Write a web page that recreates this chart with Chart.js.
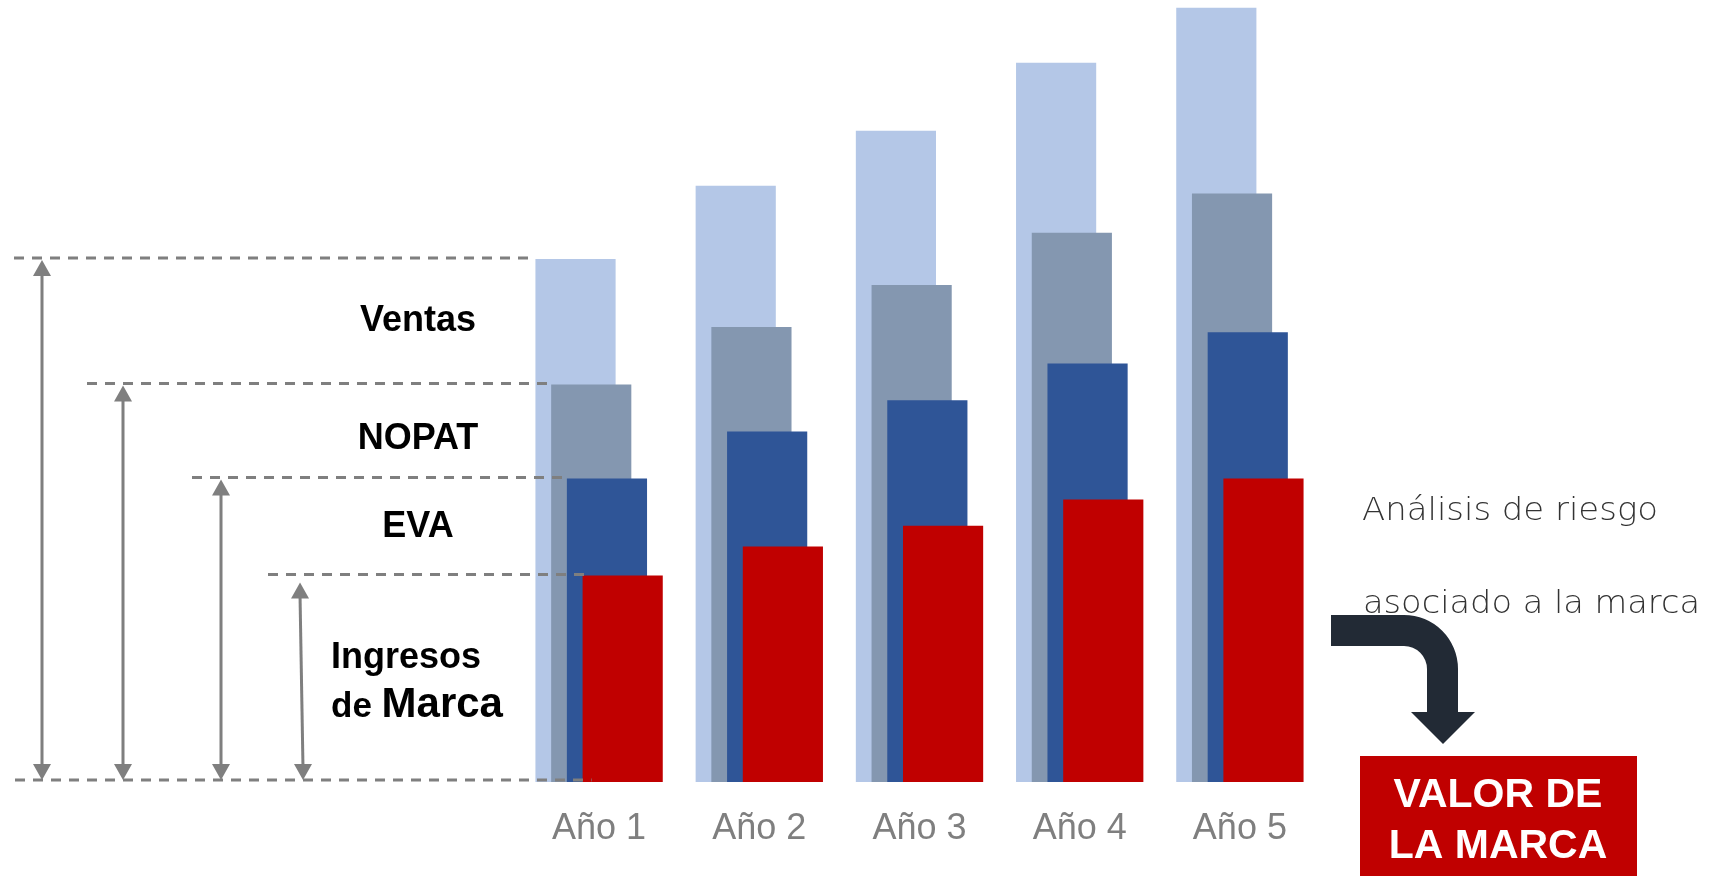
<!DOCTYPE html>
<html lang="es">
<head>
<meta charset="utf-8">
<title>Valor de la marca</title>
<script src="https://cdn.jsdelivr.net/npm/chart.js@4.4.0/dist/chart.umd.min.js"></script>
<style>
  html, body { margin: 0; padding: 0; background: #fff; }
  #wrap { width: 1711px; height: 876px; position: relative; }
</style>
</head>
<body>
<div id="wrap"><canvas id="grafico"></canvas></div>
<script>
// Datos (unidades relativas, Ventas del año 1 = 100)
const anios = ['Año 1', 'Año 2', 'Año 3', 'Año 4', 'Año 5'];
const ventas = [100, 114, 124.5, 137.5, 148];
const nopat = [76, 87, 95, 105, 112.5];
const eva = [58, 67, 73, 80, 86];
const ingresosMarca = [39.5, 45, 49, 54, 58];

const series = ['Ventas', 'NOPAT', 'EVA', 'Ingresos de Marca'];
const colores = ['#B4C7E7', '#8497B0', '#2F5597', '#C00000'];
const gris = '#7F7F7F';

// Chart.js dibuja la primera serie encima; aquí queremos la de la derecha encima
const ordenIzqDer = {
    id: 'ordenIzqDer',
    beforeDatasetsDraw(chart) {
        chart.getSortedVisibleDatasetMetas().forEach(m => m.controller.draw());
        return false;
    }
};

function linea(ctx, x1, y1, x2, y2) {
    ctx.beginPath();
    ctx.moveTo(x1, y1);
    ctx.lineTo(x2, y2);
    ctx.stroke();
}

function punta(ctx, x, y, dir) {
    // dir = 1 apunta hacia arriba, -1 hacia abajo
    ctx.beginPath();
    ctx.moveTo(x, y);
    ctx.lineTo(x - 9, y + dir * 16);
    ctx.lineTo(x + 9, y + dir * 16);
    ctx.closePath();
    ctx.fill();
}

// Cotas, textos y flecha alrededor de las barras
const anotaciones = {
    id: 'anotaciones',
    afterDraw(chart) {
        const ctx = chart.ctx;
        const y = chart.scales.y;
        const metas = chart.getSortedVisibleDatasetMetas();
        const base = y.getPixelForValue(0) - 2;
        const niveles = [ventas[0], nopat[0], eva[0], ingresosMarca[0]];
        const inicioX = [14, 87, 192, 268];
        const flechaX = [42, 123, 221, 300];

        ctx.save();
        ctx.strokeStyle = gris;
        ctx.fillStyle = gris;
        ctx.lineWidth = 3;

        // líneas discontinuas
        ctx.setLineDash([10, 8]);
        niveles.forEach((v, i) => {
            const yy = y.getPixelForValue(v) - 1;
            const b = metas[i].data[0];
            linea(ctx, inicioX[i], yy, b.x - b.width / 2 + (i ? 2 : 0), yy);
        });
        const ult = metas[3].data[0];
        linea(ctx, 15, base, ult.x - ult.width / 2 + 9, base);
        ctx.setLineDash([]);

        // flechas dobles
        niveles.forEach((v, i) => {
            const top = y.getPixelForValue(v) + (i === 3 ? 7 : 1);
            const xb = i === 3 ? flechaX[i] + 3 : flechaX[i];
            linea(ctx, flechaX[i], top + 12, xb, base - 12);
            punta(ctx, flechaX[i], top, 1);
            punta(ctx, xb, base, -1);
        });

        // textos de la izquierda
        ctx.fillStyle = '#000';
        ctx.textAlign = 'center';
        ctx.textBaseline = 'alphabetic';
        ctx.font = 'bold 36px "Liberation Sans", Arial, sans-serif';
        ctx.fillText('Ventas', 418, 331);
        ctx.fillText('NOPAT', 418, 449);
        ctx.fillText('EVA', 418, 537);
        ctx.textAlign = 'left';
        ctx.fillText('Ingresos', 331, 668);
        ctx.font = 'bold 35px "Liberation Sans", Arial, sans-serif';
        ctx.fillText('de ', 331, 717);
        const anchoDe = ctx.measureText('de ').width;
        ctx.font = 'bold 42px "Liberation Sans", Arial, sans-serif';
        ctx.fillText('Marca', 331 + anchoDe, 717);

        // textos de la derecha
        ctx.fillStyle = '#333333';
        ctx.font = '200 32px "DejaVu Sans", sans-serif';
        [['Análisis de riesgo', 1362, 520, 296], ['asociado a la marca', 1363, 613, 337]].forEach(t => {
            const w = ctx.measureText(t[0]).width;
            ctx.save();
            ctx.translate(t[1], t[2]);
            ctx.scale(t[3] / w, 1);
            ctx.fillText(t[0], 0, 0);
            ctx.restore();
        });

        // flecha curva
        ctx.fillStyle = '#222A35';
        ctx.beginPath();
        ctx.moveTo(1331, 615);
        ctx.lineTo(1404, 615);
        ctx.arc(1404, 669, 54, -Math.PI / 2, 0);
        ctx.lineTo(1458, 712);
        ctx.lineTo(1475, 712);
        ctx.lineTo(1443, 744);
        ctx.lineTo(1411, 712);
        ctx.lineTo(1427, 712);
        ctx.lineTo(1427, 669);
        ctx.arc(1404, 669, 23, 0, -Math.PI / 2, true);
        ctx.lineTo(1331, 646);
        ctx.closePath();
        ctx.fill();

        // caja roja
        ctx.fillStyle = '#C00000';
        ctx.fillRect(1360, 756, 277, 120);
        ctx.fillStyle = '#fff';
        ctx.textAlign = 'center';
        ctx.font = 'bold 41px "Liberation Sans", Arial, sans-serif';
        ctx.fillText('VALOR DE', 1498, 807);
        ctx.fillText('LA MARCA', 1498, 858);
        ctx.restore();
    }
};

const ctx = document.getElementById('grafico').getContext('2d');

const data = {
    labels: anios,
    datasets: [
        { label: series[0], data: ventas, backgroundColor: colores[0] },
        { label: series[1], data: nopat, backgroundColor: colores[1] },
        { label: series[2], data: eva, backgroundColor: colores[2] },
        { label: series[3], data: ingresosMarca, backgroundColor: colores[3] }
    ]
};

const config = {
    type: 'bar',
    data: data,
    options: {
        responsive: true,
        maintainAspectRatio: false,
        animation: false,
        layout: { padding: { left: 519, right: 391, top: 0, bottom: 0 } },
        datasets: {
            bar: { categoryPercentage: 0.3925, barPercentage: 5.1 }
        },
        plugins: {
            legend: { display: false },
            tooltip: { enabled: false }
        },
        scales: {
            x: {
                grid: { display: false, drawTicks: false },
                border: { display: false },
                ticks: {
                    color: gris,
                    padding: 25,
                    font: { family: '"Liberation Sans", Arial, sans-serif', size: 36 }
                },
                afterFit(scale) { scale.height = 94; }
            },
            y: { display: false, min: 0, max: 149.5 }
        }
    },
    plugins: [ordenIzqDer, anotaciones]
};

const grafico = new Chart(ctx, config);
</script>
</body>
</html>
